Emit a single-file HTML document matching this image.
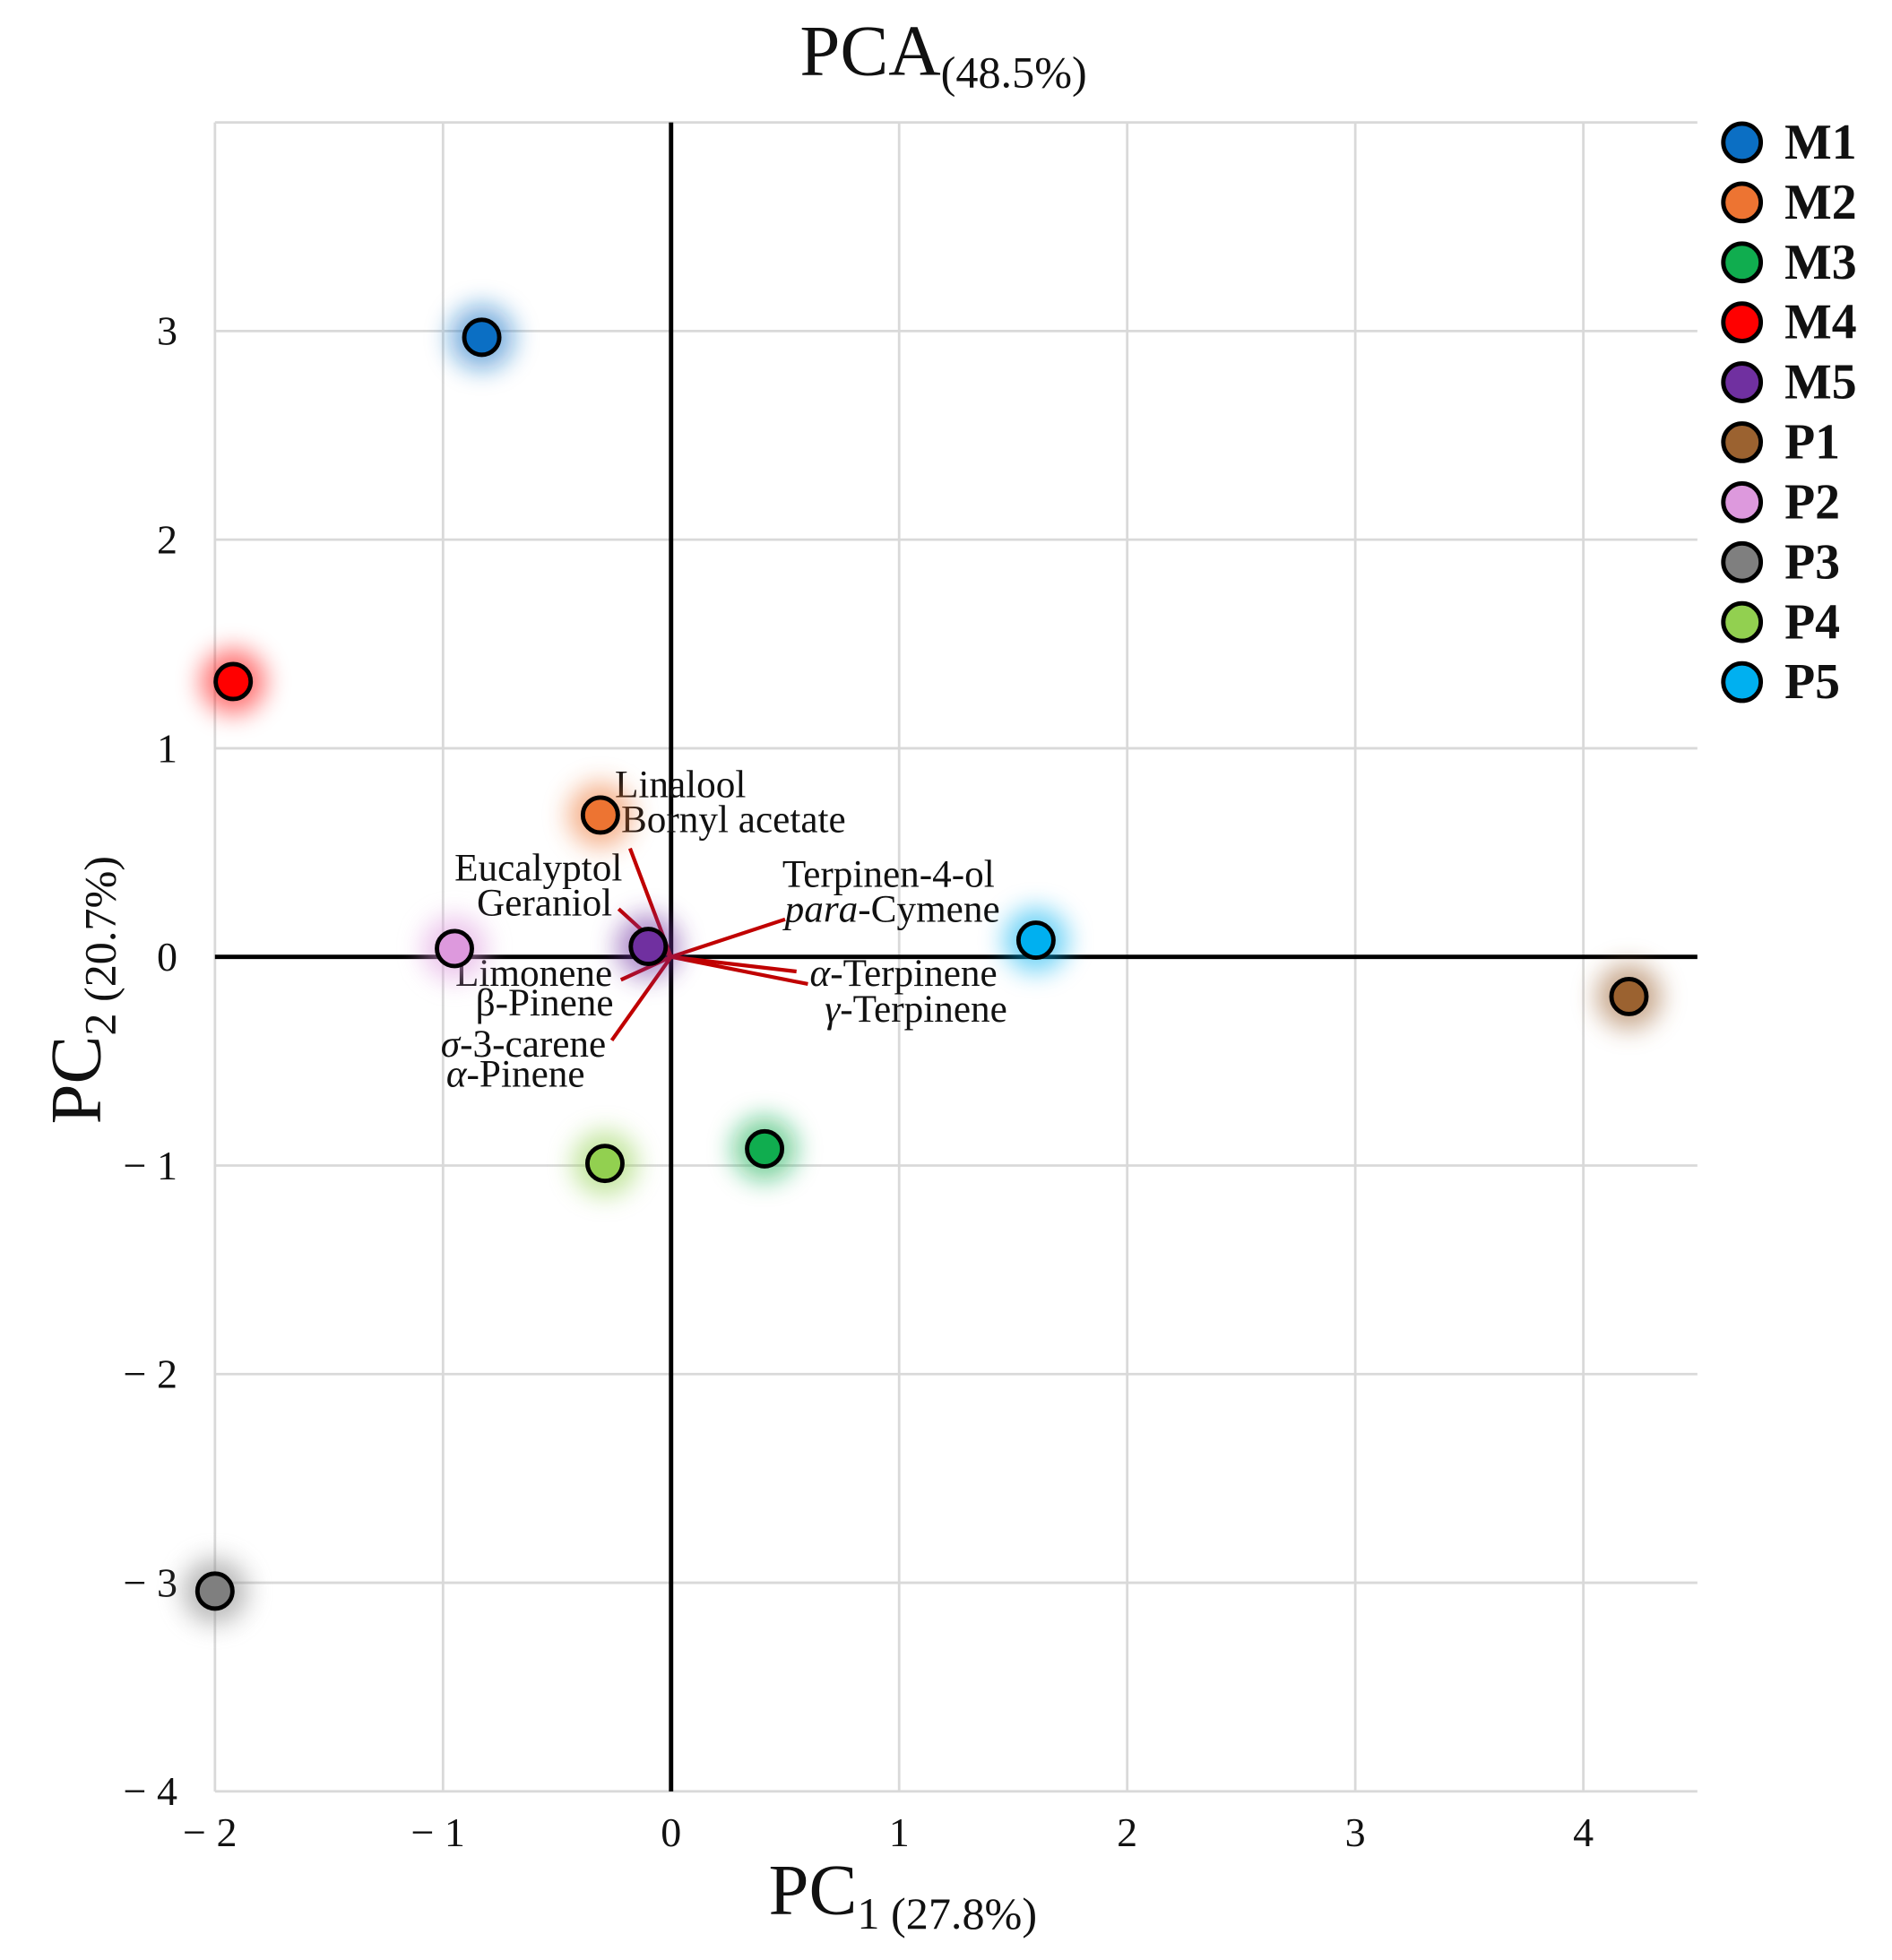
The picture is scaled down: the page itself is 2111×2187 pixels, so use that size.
<!DOCTYPE html>
<html><head><meta charset="utf-8"><style>
html,body{margin:0;padding:0;background:#fff}
svg{display:block}
text{font-family:"Liberation Serif",serif;fill:#111}
</style></head><body>
<svg id="chart" width="2111" height="2187" viewBox="0 0 1514 1569" preserveAspectRatio="none" xmlns="http://www.w3.org/2000/svg">
<defs><filter id="glow" x="-100%" y="-100%" width="300%" height="300%"><feGaussianBlur stdDeviation="10"/></filter></defs>
<g id="grid"></g>
<g id="axes"></g>
<g id="loadings"></g>
<g id="points"></g>
<g id="legend"></g>
<text x="640" y="60" font-size="58">PCA<tspan font-size="36" dy="10">(48.5%)</tspan></text>
<text x="615" y="1532" font-size="58">PC<tspan font-size="36" dy="12">1 (27.8%)</tspan></text>
<text transform="translate(80,900) rotate(-90)" font-size="58">PC<tspan font-size="36" dy="12">2 (20.7%)</tspan></text>
</svg>
<script>
const samples=["M1","M2","M3","M4","M5","P1","P2","P3","P4","P5"];
const pc1=[-0.83,-0.31,0.41,-1.92,-0.10,4.20,-0.95,-2.00,-0.29,1.60];
const pc2=[2.97,0.68,-0.92,1.32,0.05,-0.19,0.04,-3.04,-0.99,0.08];
const colors=["#0b6fc4","#ed7432","#10ad4f","#ff0000","#7030a0","#9b6230","#dd99dd","#7f7f7f","#92d050","#00b0f0"];
const xTicks=[-2,-1,0,1,2,3,4];
const yTicks=[-4,-3,-2,-1,0,1,2,3];
const loadX=[-0.18,-0.23,0.50,0.55,0.60,-0.22,-0.26];
const loadY=[0.52,0.23,0.18,-0.07,-0.13,-0.11,-0.40];
const NS="http://www.w3.org/2000/svg";
const X=v=>537+v*182.5, Y=v=>766-v*167;
function mk(tag,attrs,parent,txt){const e=document.createElementNS(NS,tag);for(const k in attrs)e.setAttribute(k,attrs[k]);if(txt!==undefined)e.textContent=txt;parent.appendChild(e);return e;}
const grid=document.getElementById('grid'),axes=document.getElementById('axes'),ld=document.getElementById('loadings'),pts=document.getElementById('points'),lg=document.getElementById('legend');
const xmin=-2,xmax=4.5,ymin=-4,ymax=4;
for(let v=-2;v<=4;v++){const l=mk('line',{x1:X(v),x2:X(v),y1:Y(ymax),y2:Y(ymin),stroke:'#d9d9d9','stroke-width':2},grid);

}
for(let v=-4;v<=4;v++){const l=mk('line',{x1:X(xmin),x2:X(xmax),y1:Y(v),y2:Y(v),stroke:'#d9d9d9','stroke-width':2},grid);

}
const za=mk('line',{x1:X(0),x2:X(0),y1:Y(ymax),y2:Y(ymin),stroke:'#000','stroke-width':3.5},axes);


const zb=mk('line',{x1:X(xmin),x2:X(xmax),y1:Y(0),y2:Y(0),stroke:'#000','stroke-width':3.5},axes);


xTicks.forEach(v=>{const t=mk('text',{x:X(v)+(v<0?-4:0),y:1478,'font-size':33,'text-anchor':'middle'},axes,(v<0?'\u2212 ':'')+Math.abs(v));

});
yTicks.forEach(v=>{const t=mk('text',{x:142,y:Y(v)+11,'font-size':33,'text-anchor':'end'},axes,(v<0?'\u2212 ':'')+Math.abs(v));

});
loadX.forEach((v,i)=>{const l=mk('line',{x1:X(0),y1:Y(0),x2:X(v),y2:Y(loadY[i]),stroke:'#c00000','stroke-width':3},ld);

});
const labs=[["Linalool",492,638,"start"],["Bornyl acetate",497,666,"start"],["Eucalyptol",498,705,"end"],["Geraniol",490,733,"end"],["Terpinen-4-ol",626,710,"start"],["para-Cymene",628,738,"start"],["\u03b1-Terpinene",648,789,"start"],["\u03b3-Terpinene",660,818,"start"],["Limonene",490,789,"end"],["\u03b2-Pinene",491,813,"end"],["\u03c3-3-carene",485,846,"end"],["\u03b1-Pinene",468,870,"end"]];
labs.forEach(a=>{const t=mk('text',{x:a[1],y:a[2],'font-size':31,'text-anchor':a[3]},ld);


if(a[0]==="para-Cymene"){mk('tspan',{'font-style':'italic'},t,'para');mk('tspan',{},t,'-Cymene');}
else if(/^[\u03b1\u03b3\u03c3]/.test(a[0])){mk('tspan',{'font-style':'italic'},t,a[0][0]);mk('tspan',{},t,a[0].slice(1));}
else t.textContent=a[0];});
samples.forEach((s,i)=>{const g=mk('circle',{cx:X(pc1[i]),cy:Y(pc2[i]),r:26,fill:colors[i],opacity:0.55,filter:'url(#glow)'},pts);

});
samples.forEach((s,i)=>{const c=mk('circle',{cx:X(pc1[i]),cy:Y(pc2[i]),r:14,fill:colors[i],stroke:'#000','stroke-width':3.5},pts);

});
samples.forEach((s,i)=>{const y=114+i*48;
const c=mk('circle',{cx:1394,cy:y,r:15,fill:colors[i],stroke:'#000','stroke-width':3.5},lg);


const t=mk('text',{x:1428,y:y+13,'font-size':40,'font-weight':'bold'},lg,s);

});
</script>
</body></html>
